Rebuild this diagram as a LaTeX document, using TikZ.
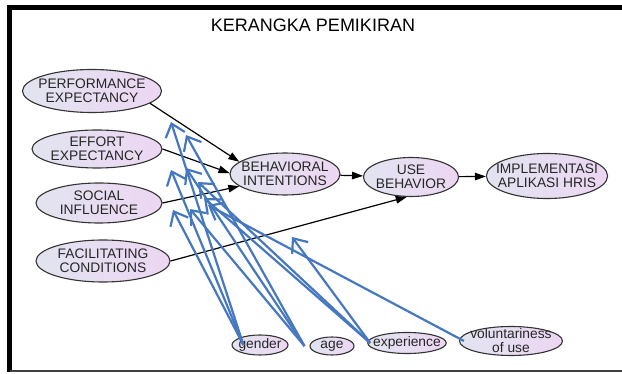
\documentclass[tikz,border=0pt]{standalone}
\usepackage{fontspec}
\setmainfont{Liberation Sans}
\usetikzlibrary{positioning, arrows.meta, shapes.geometric}

\definecolor{ovalleft}{RGB}{226,228,240}
\definecolor{ovalright}{RGB}{237,214,243}
\definecolor{modblue}{RGB}{70,120,192}

\tikzset{
 oval/.style={ellipse, draw=black!80, line width=1.1pt, left color=ovalleft, right color=ovalright,
  inner xsep=-8pt, inner ysep=0pt, align=center, text=black!85, font=\fontsize{13.8}{14}\selectfont},
 modoval/.style={oval, inner xsep=-6pt, inner ysep=-2pt},
 link/.style={line width=1.2pt, -{Triangle[length=11pt,width=7.5pt]}},
 modlink/.style={modblue, line width=2.2pt, -{Straight Barb[length=12pt,width=20pt]}}
}

\begin{document}
\begin{tikzpicture}[x=1pt, y=-1pt]
 \useasboundingbox (0,0) rectangle (622,374);
 % frame
 \draw[line width=5pt] (7,7.5) -- (622,7.5);
 \draw[line width=4.5pt] (9.5,5) -- (9.5,372);
 \draw[line width=2pt, black!75] (9.5,371) -- (622,371);

 \node[font=\fontsize{18}{20}\selectfont] (title) at (313,25) {KERANGKA PEMIKIRAN};

 % constructs
 \node[oval, minimum width=139pt, minimum height=43pt] (pe) at (92,91) {PERFORMANCE\\EXPECTANCY};
 \node[oval, minimum width=130pt, minimum height=38pt] (ee) at (97,149) {EFFORT\\EXPECTANCY};
 \node[oval, minimum width=126pt, minimum height=40pt] (si) at (99,203) {SOCIAL\\INFLUENCE};
 \node[oval, minimum width=134pt, minimum height=42pt] (fc) at (103,261) {FACILITATING\\CONDITIONS};
 \node[oval, minimum width=110pt, minimum height=42pt] (bi) at (285,174) {BEHAVIORAL\\INTENTIONS};
 \node[oval, minimum width=95pt, minimum height=39pt] (ub) at (411,177) {USE\\BEHAVIOR};
 \node[oval, minimum width=121pt, minimum height=45pt] (impl) at (547,176) {IMPLEMENTASI\\APLIKASI HRIS};

 % moderators
 \node[modoval, minimum width=56pt, minimum height=20pt] (gender) at (260,345) {gender};
 \node[modoval, minimum width=44pt, minimum height=18pt] (age) at (332,346) {age};
 \node[modoval, minimum width=75pt, minimum height=21pt] (exp) at (407,343) {experience};
 \node[modoval, minimum width=103pt, minimum height=29pt] (vol) at (511,341) {voluntariness\\of use};

 \draw[link] (pe.-12) -- (bi.165);
 \draw[link] (ee.east) -- (bi.179);
 \draw[link] (si.east) -- (bi.195);
 \draw[link] (fc.east) -- (ub.258);
 \draw[link] (bi) -- (ub);
 \draw[link] (ub) -- (impl);

 \coordinate (g1) at (171,122);
 \coordinate (g2) at (171,170);
 \coordinate (g3) at (173,210);
 \coordinate (a1) at (186,135);
 \coordinate (a2) at (186,168);
 \coordinate (a3) at (190,209);
 \coordinate (e1) at (198,182);
 \coordinate (e2) at (204,198);
 \coordinate (e3) at (292,237);
 \coordinate (v1) at (208,205);

 \foreach \t in {g1,g2,g3}
  \draw[modlink] ([xshift=12pt]gender.west) -- (\t);
 \foreach \t in {a1,a2,a3}
  \draw[modlink] ([xshift=-5pt]age.west) -- (\t);
 \foreach \t in {e1,e2,e3}
  \draw[modlink] ([xshift=3pt]exp.west) -- (\t);
 \draw[modlink] ([xshift=5pt]vol.west) -- (v1);
\end{tikzpicture}
\end{document}
